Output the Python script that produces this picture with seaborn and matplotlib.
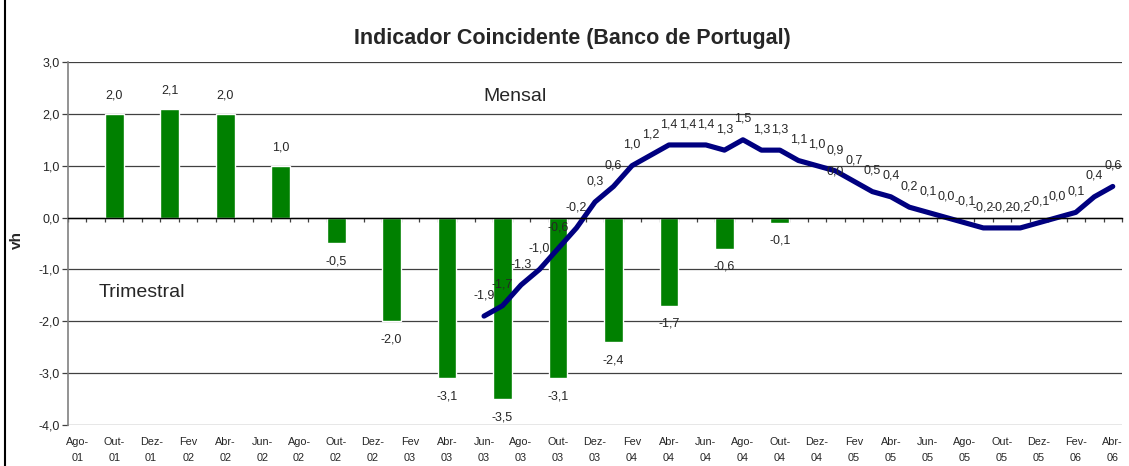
import numpy as np
import pandas as pd
import matplotlib
matplotlib.use("Agg")
import matplotlib.pyplot as plt
from matplotlib.patches import Rectangle
import seaborn as sns

# monthly axis, Ago-01 .. Abr-06
MES = ['Jan', 'Fev', 'Mar', 'Abr', 'Mai', 'Jun', 'Jul', 'Ago', 'Set', 'Out', 'Nov', 'Dez']
months = []
for yr in range(1, 7):
    for m in MES:
        months.append(f"{m}-{yr:02d}")
months = months[months.index('Ago-01'):months.index('Abr-06') + 1]

# quarterly indicator (bars)
bar_periods = ['Out-01', 'Jan-02', 'Abr-02', 'Jul-02', 'Out-02', 'Jan-03', 'Abr-03',
               'Jul-03', 'Out-03', 'Jan-04', 'Abr-04', 'Jul-04', 'Out-04', 'Jan-05']
bar_values = [2.0, 2.1, 2.0, 1.0, -0.5, -2.0, -3.1, -3.5, -3.1, -2.4, -1.7, -0.6, -0.1, 0.0]

# monthly indicator (line), Jun-03 .. Abr-06
line_start = 'Jun-03'
line_values = [-1.9, -1.7, -1.3, -1.0, -0.6, -0.2, 0.3, 0.6, 1.0, 1.2, 1.4, 1.4, 1.4, 1.3,
               1.5, 1.3, 1.3, 1.1, 1.0, 0.9, 0.7, 0.5, 0.4, 0.2, 0.1, 0.0, -0.1, -0.2,
               -0.2, -0.2, -0.1, 0.0, 0.1, 0.4, 0.6]

# x tick labels (every two months)
tick_labels = ['Ago-\n01', 'Out-\n01', 'Dez-\n01', 'Fev\n02', 'Abr-\n02', 'Jun-\n02', 'Ago-\n02',
               'Out-\n02', 'Dez-\n02', 'Fev\n03', 'Abr-\n03', 'Jun-\n03', 'Ago-\n03', 'Out-\n03',
               'Dez-\n03', 'Fev\n04', 'Abr-\n04', 'Jun-\n04', 'Ago-\n04', 'Out-\n04', 'Dez-\n04',
               'Fev\n05', 'Abr-\n05', 'Jun-\n05', 'Ago-\n05', 'Out-\n05', 'Dez-\n05', 'Fev-\n06',
               'Abr-\n06']
y_ticks = [-4.0, -3.0, -2.0, -1.0, 0.0, 1.0, 2.0, 3.0]


def fmt(v):
    return f"{v:.1f}".replace('.', ',')


sns.set_theme(style="white")
plt.rcParams['font.family'] = ['Liberation Sans', 'DejaVu Sans']

bars = pd.DataFrame({'pos': [months.index(p) for p in bar_periods], 'val': bar_values})
i0 = months.index(line_start)
line = pd.DataFrame({'pos': np.arange(i0, i0 + len(line_values)), 'val': line_values})

fig = plt.figure(figsize=(11.29, 4.66), dpi=100)
ax = fig.add_axes([0.0602, 0.088, 0.9336, 0.779])

sns.barplot(data=bars, x='pos', y='val', native_scale=True, width=0.34,
            color='#008000', saturation=1, ax=ax, zorder=3)
sns.lineplot(data=line, x='pos', y='val', color='#000080', linewidth=3.7,
             solid_capstyle='round', ax=ax, zorder=4)

ax.set_xlim(-0.5, len(months) - 0.5)
ax.set_ylim(-4, 3)
ax.set_xlabel('')
ax.set_ylabel('')

# grid
for v in y_ticks:
    ax.axhline(v, color='#404040', linewidth=0.9, zorder=1)

# spines
for s in ['top', 'right']:
    ax.spines[s].set_visible(False)
ax.spines['left'].set_color('#808080')
ax.spines['left'].set_linewidth(1.2)
ax.spines['bottom'].set_position(('data', 0))
ax.spines['bottom'].set_color('black')
ax.spines['bottom'].set_linewidth(1.0)
ax.spines['bottom'].set_zorder(5)

ax.set_xticks(np.arange(-0.5, len(months), 1.0))
ax.set_xticklabels([])
ax.tick_params(axis='x', bottom=True, direction='out', length=3, width=0.9, color='#404040')
ax.set_yticks(y_ticks)
ax.set_yticklabels([fmt(v) for v in y_ticks], fontsize=9)
ax.tick_params(axis='y', left=True, direction='out', length=4, width=0.9, color='#404040', pad=2)

sec = ax.secondary_xaxis(0.0)
sec.set_xticks(range(0, len(months), 2))
sec.set_xticklabels(tick_labels, fontsize=7.8, linespacing=1.75)
sec.tick_params(length=0, pad=9)
sec.spines['bottom'].set_visible(False)

# data labels
for _, r in bars.iterrows():
    off = 13 if r['val'] > 0 else -13
    if r['val'] == 0:
        off = 33
    ax.annotate(fmt(r['val']), (r['pos'], r['val']), xytext=(0, off),
                textcoords='offset points', ha='center', va='center', fontsize=9, zorder=6)
for _, r in line.iterrows():
    ax.annotate(fmt(r['val']), (r['pos'], r['val']), xytext=(0, 15),
                textcoords='offset points', ha='center', va='center', fontsize=9, zorder=6)

ax.text(0.424, 0.904, 'Mensal', transform=ax.transAxes, ha='center', va='center', fontsize=14)
ax.text(0.070, 0.364, 'Trimestral', transform=ax.transAxes, ha='center', va='center', fontsize=14)

fig.text(0.507, 0.918, 'Indicador Coincidente (Banco de Portugal)', ha='center', va='center',
         fontsize=15.5, fontweight='bold')
fig.text(0.015, 0.485, 'vh', rotation=90, ha='center', va='center', fontsize=11, fontweight='bold')

# chart area border
fig.add_artist(Rectangle((5 / 1129, -0.2), 1.2, 1.2 + (1 - 10 / 466), transform=fig.transFigure,
                         fill=False, edgecolor='black', linewidth=1.5, clip_on=False))

fig.savefig('out.png', dpi=100)
